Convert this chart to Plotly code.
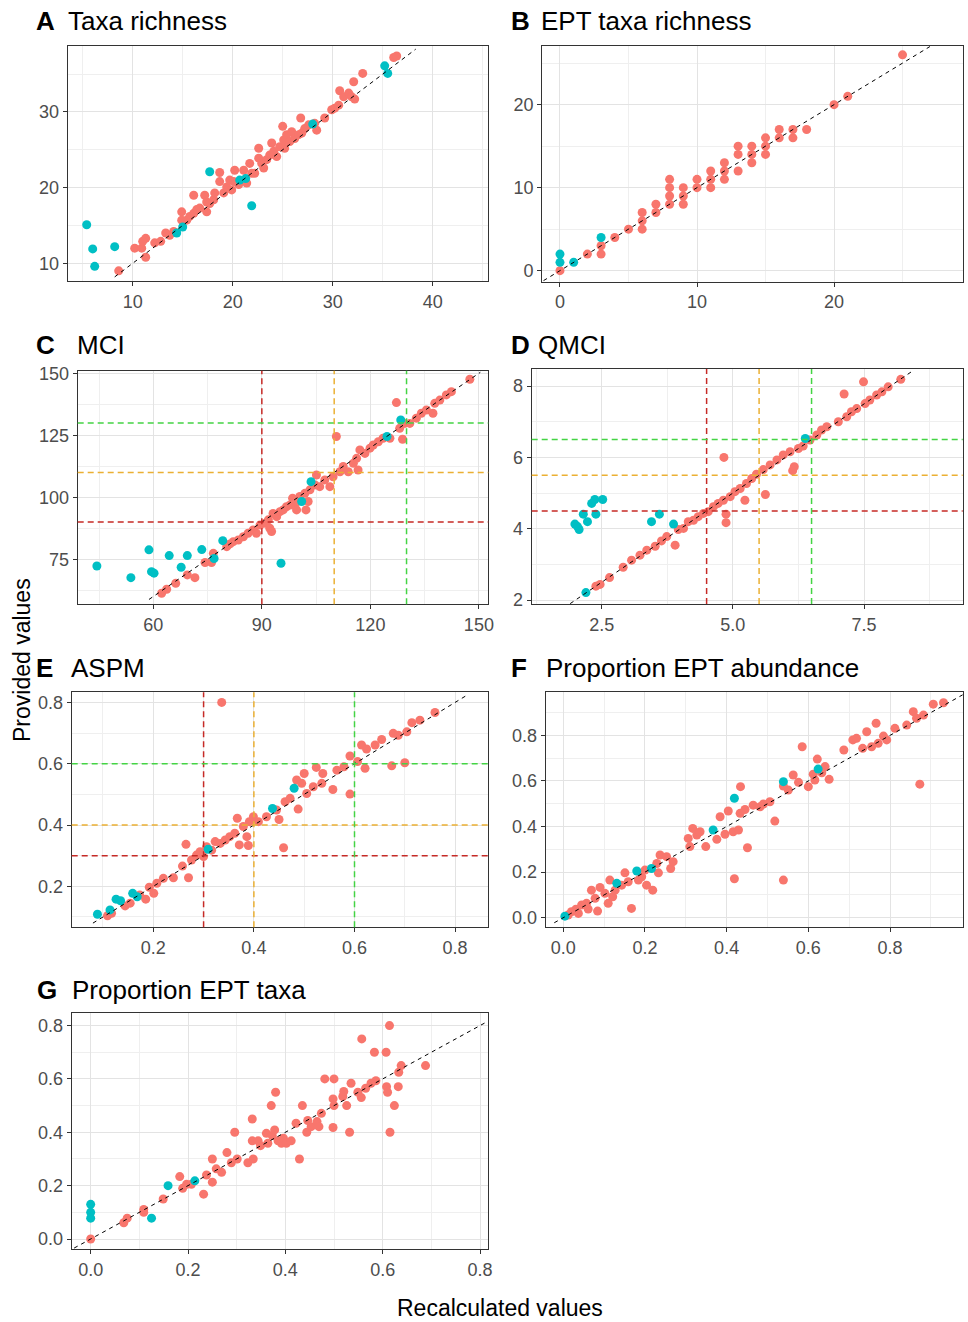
import plotly.graph_objects as go

# ---------------------------------------------------------------------------
# Data: provided vs recalculated index values, split into two groups
# (red = standard samples, teal = flagged samples)
# ---------------------------------------------------------------------------

# A  Taxa richness
A_red_x = [8.6, 10.2, 10.9, 11.3, 11.3, 11.0, 12.2, 12.8, 13.3, 13.7, 14.1, 14.9, 14.9, 15.4, 15.7,
           16.1, 16.1, 16.4, 16.7, 17.2, 17.4, 17.4, 17.7, 18.1, 18.2, 18.7, 18.7, 19.1, 19.4, 19.7,
           19.9, 20.1, 20.2, 20.6, 21.1, 21.4, 21.7, 21.9, 22.2, 22.6, 22.6, 22.9, 23.1, 23.4, 23.7,
           23.9, 24.1, 24.4, 24.7, 25.0, 25.1, 25.2, 25.4, 25.7, 25.9, 26.2, 26.6, 26.8, 26.9, 27.2,
           27.6, 28.2, 28.4, 29.2, 29.9, 30.2, 30.6, 30.7, 31.1, 31.6, 31.9, 32.1, 32.2, 33.0, 36.1, 36.4]
A_red_y = [9.0, 12.0, 12.0, 13.3, 10.8, 12.9, 12.7, 12.9, 14.0, 13.7, 14.2, 16.8, 15.7, 15.7, 16.2,
           16.6, 19.0, 17.1, 17.3, 19.0, 18.1, 16.8, 17.9, 18.4, 19.3, 22.0, 20.8, 19.3, 20.1, 21.0,
           19.7, 20.8, 22.3, 20.4, 22.3, 20.6, 23.2, 21.9, 21.9, 25.2, 23.9, 23.2, 22.6, 23.7, 24.3,
           25.9, 24.8, 24.1, 25.4, 28.1, 26.3, 25.2, 27.0, 26.1, 27.4, 26.5, 27.0, 29.2, 27.2, 27.8,
           28.3, 28.5, 27.6, 29.2, 30.3, 30.5, 30.9, 32.8, 32.0, 32.5, 32.0, 34.0, 31.7, 35.1, 37.2, 37.4]
A_teal_x = [5.4, 6.0, 6.2, 8.2, 14.4, 15.0, 17.7, 20.7, 21.3, 21.9, 28.0, 35.2, 35.5]
A_teal_y = [15.1, 11.9, 9.6, 12.2, 14.0, 14.8, 22.1, 21.0, 21.2, 17.6, 28.4, 36.1, 35.1]

# B  EPT taxa richness
B_red_x = [0, 2, 3, 3, 4, 5, 6, 6, 6, 7, 7, 8, 8, 8, 8, 9, 9, 9, 10, 10, 11, 11, 11,
           12, 12, 12, 13, 13, 13, 14, 14, 14, 15, 15, 15, 16, 16, 17, 17, 18, 20, 21, 25]
B_red_y = [0, 2, 2, 3, 4, 5, 5, 6, 7, 7, 8, 8, 9, 10, 11, 8, 9, 10, 10, 11, 10, 11, 12,
           11, 12, 13, 12, 14, 15, 13, 14, 15, 14, 15, 16, 16, 17, 16, 17, 17, 20, 21, 26]
B_teal_x = [0, 0, 1, 3]
B_teal_y = [2, 1, 1, 4]

# C  MCI
C_red_x = [62.3, 63.7, 66.2, 69.4, 71.5, 74.3, 76.1, 76.6, 80.3, 81.2, 82.1, 83.5, 84.9, 86.2, 87.6,
           88.5, 89.5, 90.9, 91.8, 92.2, 92.7, 93.1, 94.1, 95.0, 95.9, 96.8, 97.8, 98.5, 99.4, 99.6,
           100.5, 101.9, 102.2, 102.8, 103.3, 104.7, 105.1, 106.0, 107.4, 108.8, 109.7, 110.6, 111.6,
           112.5, 113.9, 115.3, 116.2, 116.6, 117.1, 118.5, 119.9, 120.8, 122.2, 123.5, 125.4, 127.2,
           128.1, 128.9, 129.5, 130.9, 132.7, 134.1, 135.5, 137.3, 137.8, 139.2, 141.0, 142.4, 147.5]
C_red_y = [61.3, 62.9, 65.3, 68.7, 67.6, 73.7, 73.7, 77.4, 80.1, 81.2, 82.1, 82.8, 84.1, 85.5, 86.8,
           85.5, 88.8, 89.5, 90.9, 87.5, 86.2, 93.5, 92.2, 94.2, 94.9, 96.2, 96.9, 99.6, 97.8, 94.9,
           100.3, 101.6, 94.9, 98.3, 103.0, 105.0, 109.0, 104.3, 107.0, 104.3, 108.3, 124.5, 110.3,
           112.4, 110.3, 113.7, 115.7, 111.0, 119.1, 117.7, 119.8, 121.1, 122.4, 123.8, 123.8, 138.2,
           127.8, 123.4, 129.8, 129.8, 131.9, 133.9, 135.2, 133.9, 137.9, 139.2, 141.3, 142.6, 147.6]
C_teal_x = [44.4, 53.8, 58.8, 59.5, 60.2, 64.4, 67.7, 69.4, 73.4, 76.8, 79.2, 95.3, 101.0, 103.6, 124.6, 128.4]
C_teal_y = [72.3, 67.6, 78.8, 70.0, 69.4, 76.5, 71.8, 76.5, 78.9, 75.3, 82.5, 73.4, 98.3, 106.3, 124.5, 131.2]

# D  QMCI
D_red_x = [2.39, 2.47, 2.65, 2.91, 3.07, 3.23, 3.36, 3.52, 3.64, 3.74, 3.90, 3.96, 4.06, 4.15, 4.25,
           4.34, 4.44, 4.53, 4.63, 4.72, 4.82, 4.83, 4.87, 4.87, 4.95, 5.04, 5.14, 5.23, 5.26, 5.36,
           5.45, 5.58, 5.62, 5.71, 5.84, 5.96, 6.09, 6.14, 6.17, 6.25, 6.34, 6.47, 6.60, 6.69, 6.79,
           7.01, 7.12, 7.17, 7.26, 7.36, 7.49, 7.52, 7.61, 7.74, 7.84, 7.96, 8.20]
D_red_y = [2.39, 2.44, 2.63, 2.92, 3.12, 3.26, 3.40, 3.51, 3.66, 3.78, 3.54, 3.98, 4.01, 4.20, 4.24,
           4.34, 4.43, 4.48, 4.62, 4.71, 4.80, 6.00, 4.41, 4.17, 4.90, 5.04, 5.13, 4.80, 5.27, 5.41,
           5.53, 5.66, 4.96, 5.79, 5.93, 6.07, 6.16, 5.63, 5.74, 6.25, 6.32, 6.49, 6.63, 6.77, 6.86,
           7.00, 7.78, 7.14, 7.28, 7.37, 8.12, 7.51, 7.61, 7.75, 7.84, 7.98, 8.19]
D_teal_x = [1.99, 2.04, 2.07, 2.15, 2.23, 2.31, 2.37, 2.39, 2.52, 3.45, 3.60, 3.87, 2.20, 6.38]
D_teal_y = [4.13, 4.06, 3.98, 4.41, 4.20, 4.71, 4.82, 4.41, 4.82, 4.20, 4.41, 4.13, 2.21, 6.53]

# E  ASPM
E_red_x = [0.109, 0.117, 0.144, 0.154, 0.173, 0.185, 0.192, 0.201, 0.207, 0.220, 0.240, 0.258, 0.265,
           0.270, 0.276, 0.286, 0.293, 0.300, 0.306, 0.316, 0.323, 0.333, 0.336, 0.343, 0.352, 0.362,
           0.367, 0.371, 0.379, 0.386, 0.389, 0.391, 0.399, 0.409, 0.425, 0.445, 0.450, 0.459, 0.462,
           0.472, 0.485, 0.488, 0.495, 0.500, 0.505, 0.518, 0.524, 0.535, 0.537, 0.557, 0.565, 0.579,
           0.591, 0.591, 0.606, 0.614, 0.621, 0.624, 0.641, 0.654, 0.674, 0.677, 0.687, 0.700, 0.704,
           0.714, 0.730, 0.760]
E_red_y = [0.104, 0.112, 0.136, 0.145, 0.172, 0.158, 0.197, 0.177, 0.210, 0.226, 0.228, 0.266, 0.337,
           0.228, 0.286, 0.302, 0.313, 0.297, 0.329, 0.318, 0.346, 0.340, 0.800, 0.351, 0.362, 0.373,
           0.422, 0.335, 0.395, 0.362, 0.333, 0.411, 0.427, 0.411, 0.427, 0.449, 0.418, 0.326, 0.476,
           0.487, 0.547, 0.452, 0.536, 0.568, 0.503, 0.525, 0.588, 0.536, 0.568, 0.516, 0.579, 0.590,
           0.625, 0.501, 0.607, 0.661, 0.585, 0.648, 0.661, 0.679, 0.593, 0.699, 0.693, 0.603, 0.704,
           0.734, 0.742, 0.767]
E_teal_x = [0.089, 0.114, 0.126, 0.135, 0.159, 0.168, 0.309, 0.437, 0.480]
E_teal_y = [0.109, 0.123, 0.158, 0.153, 0.177, 0.166, 0.321, 0.454, 0.520]

# F  Proportion EPT abundance
F_red_x = [0.012, 0.020, 0.031, 0.037, 0.045, 0.057, 0.061, 0.069, 0.078, 0.084, 0.090, 0.102, 0.110,
           0.114, 0.121, 0.127, 0.143, 0.151, 0.159, 0.167, 0.184, 0.192, 0.200, 0.204, 0.219, 0.229,
           0.233, 0.237, 0.253, 0.263, 0.269, 0.306, 0.310, 0.317, 0.327, 0.335, 0.349, 0.376, 0.384,
           0.396, 0.404, 0.416, 0.419, 0.429, 0.433, 0.434, 0.445, 0.451, 0.465, 0.482, 0.490, 0.506,
           0.518, 0.539, 0.539, 0.551, 0.563, 0.576, 0.585, 0.600, 0.612, 0.616, 0.622, 0.633, 0.641,
           0.651, 0.687, 0.709, 0.718, 0.733, 0.743, 0.755, 0.766, 0.771, 0.784, 0.792, 0.812, 0.841,
           0.857, 0.873, 0.865, 0.882, 0.906, 0.931]
F_red_y = [0.012, 0.026, 0.037, 0.019, 0.056, 0.063, 0.038, 0.121, 0.085, 0.029, 0.133, 0.107, 0.063,
           0.165, 0.092, 0.121, 0.143, 0.197, 0.158, 0.041, 0.165, 0.180, 0.209, 0.143, 0.121, 0.238,
           0.197, 0.275, 0.268, 0.216, 0.246, 0.348, 0.312, 0.392, 0.363, 0.377, 0.312, 0.344, 0.443,
           0.366, 0.468, 0.377, 0.171, 0.385, 0.458, 0.575, 0.475, 0.307, 0.494, 0.487, 0.499, 0.509,
           0.424, 0.165, 0.578, 0.560, 0.626, 0.594, 0.750, 0.575, 0.630, 0.604, 0.696, 0.636, 0.663,
           0.607, 0.736, 0.780, 0.787, 0.743, 0.816, 0.750, 0.853, 0.765, 0.797, 0.780, 0.831, 0.845,
           0.904, 0.586, 0.875, 0.889, 0.937, 0.943]
F_teal_x = [0.004, 0.131, 0.180, 0.216, 0.367, 0.419, 0.539, 0.624]
F_teal_y = [0.007, 0.151, 0.205, 0.216, 0.385, 0.524, 0.597, 0.652]

# G  Proportion EPT taxa
G_red_x = [0.000, 0.068, 0.075, 0.109, 0.109, 0.149, 0.183, 0.189, 0.197, 0.207, 0.232, 0.238, 0.250,
           0.250, 0.258, 0.269, 0.280, 0.289, 0.296, 0.301, 0.323, 0.332, 0.332, 0.334, 0.344, 0.349,
           0.361, 0.364, 0.371, 0.373, 0.378, 0.380, 0.385, 0.392, 0.396, 0.402, 0.412, 0.422, 0.429,
           0.435, 0.444, 0.446, 0.453, 0.465, 0.469, 0.474, 0.481, 0.498, 0.498, 0.500, 0.500, 0.518,
           0.520, 0.526, 0.532, 0.535, 0.549, 0.556, 0.557, 0.565, 0.576, 0.583, 0.586, 0.607, 0.608,
           0.610, 0.614, 0.615, 0.624, 0.632, 0.633, 0.638, 0.688]
G_red_y = [0.000, 0.061, 0.078, 0.111, 0.100, 0.150, 0.234, 0.190, 0.205, 0.205, 0.168, 0.240, 0.300,
           0.213, 0.263, 0.250, 0.324, 0.286, 0.400, 0.300, 0.286, 0.450, 0.368, 0.300, 0.368, 0.350,
           0.396, 0.359, 0.500, 0.388, 0.409, 0.550, 0.368, 0.359, 0.378, 0.359, 0.368, 0.434, 0.300,
           0.500, 0.400, 0.444, 0.421, 0.440, 0.421, 0.471, 0.600, 0.525, 0.418, 0.600, 0.500, 0.534,
           0.553, 0.500, 0.400, 0.584, 0.550, 0.530, 0.750, 0.565, 0.584, 0.700, 0.593, 0.700, 0.571,
           0.550, 0.800, 0.400, 0.500, 0.571, 0.625, 0.650, 0.650]
G_teal_x = [0.000, 0.000, 0.000, 0.125, 0.159, 0.214]
G_teal_y = [0.130, 0.100, 0.078, 0.078, 0.200, 0.218]

# 1:1 reference line extent per panel
A_line = [8.2, 38.3]
B_line = [-1.2, 27.0]
C_line = [58.8, 150.4]
D_line = [1.9, 8.45]
E_line = [0.08, 0.825]
F_line = [-0.022, 0.98]
G_line = [-0.034, 0.82]

# Quality-class thresholds (poor / fair / good)
C_thresholds = [90, 110, 130]
D_thresholds = [4.5, 5.5, 6.5]
E_thresholds = [0.3, 0.4, 0.6]

# Tick values and labels
A_xticks, A_yticks = [10, 20, 30, 40], [10, 20, 30]
B_xticks, B_yticks = [0, 10, 20], [0, 10, 20]
C_xticks, C_yticks = [60, 90, 120, 150], [75, 100, 125, 150]
D_xticks, D_yticks = [2.5, 5.0, 7.5], [2, 4, 6, 8]
D_xlabels = ["2.5", "5.0", "7.5"]
E_xticks = [0.2, 0.4, 0.6, 0.8]
E_yticks = [0.2, 0.4, 0.6, 0.8]
P_ticks = [0.0, 0.2, 0.4, 0.6, 0.8]

# Panel titles
titles = ["Taxa richness", "EPT taxa richness", "MCI", "QMCI", "ASPM",
          "Proportion EPT abundance", "Proportion EPT taxa"]
letters = ["A", "B", "C", "D", "E", "F", "G"]

# ---------------------------------------------------------------------------
# Layout geometry (pixels in a 968 x 1322 canvas)
# ---------------------------------------------------------------------------
W, H = 968, 1322
RED, TEAL = "#F8766D", "#00BFC4"
THRESH_COLORS = ["#C62A26", "#EBB033", "#44D444"]

panels = [
    dict(box=(67.7, 488.3, 45.7, 281.0), xr=[3.5, 45.56], yr=[7.66, 38.76], mx=(0, 5), my=(0, 5),
         xt=A_xticks, yt=A_yticks, tx=66, lx=34, ty=21,
         red=(A_red_x, A_red_y), teal=(A_teal_x, A_teal_y), line=A_line, thr=None),
    dict(box=(542.3, 962.7, 45.7, 281.7), xr=[-1.29, 29.39], yr=[-1.33, 27.1], mx=(0, 5), my=(0, 5),
         xt=B_xticks, yt=B_yticks, tx=539, lx=509, ty=21,
         red=(B_red_x, B_red_y), teal=(B_teal_x, B_teal_y), line=B_line, thr=None),
    dict(box=(77.7, 488.3, 370.7, 604.3), xr=[39.1, 152.6], yr=[56.85, 151.05], mx=(0, 15), my=(0, 12.5),
         xt=C_xticks, yt=C_yticks, tx=75, lx=34, ty=345,
         red=(C_red_x, C_red_y), teal=(C_teal_x, C_teal_y), line=C_line, thr=C_thresholds),
    dict(box=(531.7, 962.7, 369.0, 604.0), xr=[1.167, 9.38], yr=[1.89, 8.48], mx=(0, 1.25), my=(0, 1),
         xt=D_xticks, yt=D_yticks, xl=D_xlabels, tx=536, lx=509, ty=345,
         red=(D_red_x, D_red_y), teal=(D_teal_x, D_teal_y), line=D_line, thr=D_thresholds),
    dict(box=(71.7, 488.3, 692.3, 927.3), xr=[0.0378, 0.866], yr=[0.0663, 0.833], mx=(0, 0.1), my=(0, 0.1),
         xt=E_xticks, yt=E_yticks, tx=69, lx=34, ty=668,
         red=(E_red_x, E_red_y), teal=(E_teal_x, E_teal_y), line=E_line, thr=E_thresholds),
    dict(box=(545.7, 962.7, 692.3, 927.3), xr=[-0.043, 0.978], yr=[-0.042, 0.989], mx=(0, 0.1), my=(0, 0.1),
         xt=P_ticks, yt=P_ticks, tx=544, lx=509, ty=668,
         red=(F_red_x, F_red_y), teal=(F_teal_x, F_teal_y), line=F_line, thr=None),
    dict(box=(71.7, 488.3, 1013.3, 1249.3), xr=[-0.039, 0.817], yr=[-0.0386, 0.846], mx=(0, 0.1), my=(0, 0.1),
         xt=P_ticks, yt=P_ticks, tx=70, lx=35, ty=990,
         red=(G_red_x, G_red_y), teal=(G_teal_x, G_teal_y), line=G_line, thr=None),
]

FONT = "Liberation Sans, Arial, sans-serif"


def fmt(v, dec):
    return f"{v:.{dec}f}"


fig = go.Figure()
layout = dict(
    width=W, height=H, autosize=False, margin=dict(l=0, r=0, t=0, b=0, pad=0, autoexpand=False),
    paper_bgcolor="white", plot_bgcolor="white", showlegend=False,
    font=dict(family=FONT, color="#4D4D4D"),
)
annotations = []
shapes = []

for i, p in enumerate(panels):
    n = "" if i == 0 else str(i + 1)
    xa, ya = f"x{n}", f"y{n}"
    l, r, t, b = p["box"]
    dom_x = [l / W, r / W]
    dom_y = [1 - b / H, 1 - t / H]

    xt, yt = p["xt"], p["yt"]
    dec_x = 1 if any(v != int(v) for v in xt) or max(xt) <= 1 else 0
    dec_y = 1 if any(v != int(v) for v in yt) or max(yt) <= 1 else 0
    xl = p.get("xl", [fmt(v, dec_x) for v in xt])
    yl = [fmt(v, dec_y) for v in yt]

    common = dict(
        showline=True, linecolor="#333333", linewidth=1.3, mirror=True,
        ticks="outside", ticklen=4, tickcolor="#333333", tickwidth=1,
        showgrid=True, gridcolor="#E3E3E3", gridwidth=1.2, zeroline=False,
        tickfont=dict(size=18, color="#4D4D4D", family=FONT),
        tickmode="array", automargin=False,
    )
    layout[f"xaxis{n}"] = dict(
        common, domain=dom_x, range=p["xr"], anchor=ya, tickvals=xt, ticktext=xl,
        minor=dict(showgrid=True, gridcolor="#EFEFEF", gridwidth=0.8, tick0=p["mx"][0], dtick=p["mx"][1]),
    )
    layout[f"yaxis{n}"] = dict(
        common, domain=dom_y, range=p["yr"], anchor=xa, tickvals=yt, ticktext=yl,
        minor=dict(showgrid=True, gridcolor="#EFEFEF", gridwidth=0.8, tick0=p["my"][0], dtick=p["my"][1]),
    )

    fig.add_trace(go.Scatter(
        x=p["red"][0], y=p["red"][1], mode="markers", xaxis=xa, yaxis=ya,
        marker=dict(color=RED, size=9, line=dict(width=0)), hoverinfo="x+y",
    ))
    fig.add_trace(go.Scatter(
        x=p["teal"][0], y=p["teal"][1], mode="markers", xaxis=xa, yaxis=ya,
        marker=dict(color=TEAL, size=9, line=dict(width=0)), hoverinfo="x+y",
    ))

    if p["thr"] is not None:
        for v, c in zip(p["thr"], THRESH_COLORS):
            shapes.append(dict(type="line", xref=xa, yref=f"{ya} domain", x0=v, x1=v, y0=0, y1=1,
                               line=dict(color=c, width=1.5, dash="6px,4px"), layer="above"))
            shapes.append(dict(type="line", xref=f"{xa} domain", yref=ya, x0=0, x1=1, y0=v, y1=v,
                               line=dict(color=c, width=1.5, dash="6px,4px"), layer="above"))

    fig.add_trace(go.Scatter(
        x=p["line"], y=p["line"], mode="lines", xaxis=xa, yaxis=ya,
        line=dict(color="black", width=1, dash="4px,4px"), hoverinfo="skip",
    ))

    # panel tag and title
    annotations.append(dict(text=f"<b>{letters[i]}</b>", x=p["lx"] / W, y=1 - p["ty"] / H,
                            xref="paper", yref="paper", xanchor="left", yanchor="middle",
                            showarrow=False, font=dict(size=26, color="black", family=FONT)))
    annotations.append(dict(text=titles[i], x=p["tx"] / W, y=1 - p["ty"] / H,
                            xref="paper", yref="paper", xanchor="left", yanchor="middle",
                            showarrow=False, font=dict(size=26, color="black", family=FONT)))

# shared axis titles
annotations.append(dict(text="Provided values", x=22 / W, y=1 - 660 / H, xref="paper", yref="paper",
                        xanchor="center", yanchor="middle", textangle=-90, showarrow=False,
                        font=dict(size=23, color="black", family=FONT)))
annotations.append(dict(text="Recalculated values", x=500 / W, y=1 - 1308 / H, xref="paper", yref="paper",
                        xanchor="center", yanchor="middle", showarrow=False,
                        font=dict(size=23, color="black", family=FONT)))

layout["annotations"] = annotations
layout["shapes"] = shapes
fig.update_layout(**layout)

fig.write_html("out.html")
